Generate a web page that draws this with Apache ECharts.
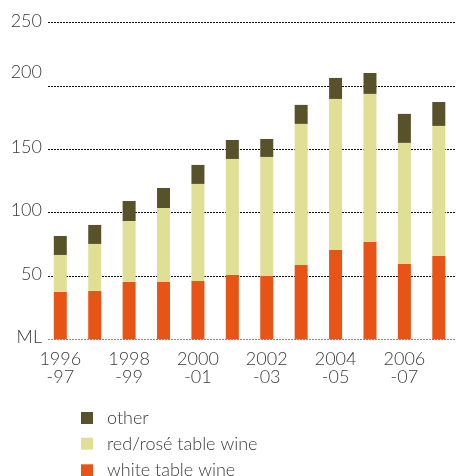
<!DOCTYPE html>
<html>
<head>
<meta charset="utf-8">
<script src="https://cdn.jsdelivr.net/npm/echarts@6/dist/echarts.min.js"></script>
<style>
  html, body { margin: 0; padding: 0; background: #fff; }
  #wine { width: 456px; height: 476px; }
</style>
</head>
<body>
<div id="wine"></div>
<script>
// financial years
let years = ['1996-97', '1997-98', '1998-99', '1999-00', '2000-01', '2001-02',
  '2002-03', '2003-04', '2004-05', '2005-06', '2006-07', '2007-08'];
// ML
let whiteWine = [37.4, 38.2, 45.3, 45.3, 46.1, 50.8, 50.0, 58.7, 70.5, 76.9, 59.5, 65.8];
let redWine = [29.2, 37.1, 48.1, 58.4, 76.6, 91.6, 94.0, 111.4, 119.3, 116.9, 95.6, 102.7];
let otherWine = [15.0, 15.0, 15.8, 15.8, 15.0, 15.0, 14.2, 15.0, 16.6, 16.5, 22.9, 18.9];
let yTicks = [0, 50, 100, 150, 200, 250];
let legendNames = ['other', 'red/rosé table wine', 'white table wine'];

let font = 'Lato';
let color = ['#e85416', '#dfe096', '#58522b']; // white, red/rose, other

let chart = echarts.init(document.getElementById('wine'));

// one legend per entry so the column doesn't wrap near the bottom edge
let legendTops = [409, 434.7, 461.3];
let legends = legendNames.map(function (name, i) {
  return {
    orient: 'vertical',
    left: 81,
    top: legendTops[i],
    padding: 0,
    icon: 'rect',
    itemWidth: 12,
    itemHeight: 12,
    data: [name],
    textStyle: {
      fontFamily: font,
      fontSize: 18,
      fontWeight: 300,
      color: '#3a3a3a',
      lineHeight: 14,
      padding: [0, 0, 0, 9]
    }
  };
});

chart.setOption({
  backgroundColor: '#fff',
  animation: false,
  textStyle: { fontFamily: font },
  legend: legends,
  grid: [
    // bars
    { left: 43.1, top: 22.7, width: 417.6, height: 316.6 },
    // gridlines + y labels
    { left: 48, top: 22.7, right: 0, height: 316.6 }
  ],
  xAxis: [
    {
      type: 'category',
      gridIndex: 0,
      data: years,
      axisLine: { show: false },
      axisTick: { show: false },
      axisLabel: {
        interval: 1,
        margin: 11,
        fontFamily: font,
        fontSize: 18,
        fontWeight: 300,
        lineHeight: 18,
        color: '#3a3a3a',
        formatter: function (v) {
          return v.replace('-', '\n-');
        }
      }
    },
    { type: 'value', gridIndex: 1, show: false, min: 0, max: 1 }
  ],
  yAxis: [
    {
      type: 'value', gridIndex: 0, min: 0, max: 250, interval: 50,
      axisLabel: { show: false }, axisLine: { show: false },
      axisTick: { show: false }, splitLine: { show: false }
    },
    {
      type: 'value', gridIndex: 1,
      min: yTicks[0], max: yTicks[yTicks.length - 1], interval: 50,
      axisLine: { show: false },
      axisTick: { show: false },
      axisLabel: {
        margin: 6,
        fontFamily: font,
        fontSize: 18,
        fontWeight: 300,
        color: '#3a3a3a',
        padding: [0, 0, 4, 0],
        formatter: function (v) {
          if (v === 0) return 'ML';
          if (v === 200) return '{hi|200}';
          return v;
        },
        rich: {
          hi: {
            fontFamily: font,
            fontSize: 18,
            fontWeight: 300,
            color: '#3a3a3a',
            padding: [0, 0, 24, 0]
          }
        }
      },
      splitLine: {
        show: true,
        lineStyle: {
          color: ['#8a8a8a', '#111', '#111', '#111', '#111', '#111'],
          width: 1,
          type: [2, 1]
        }
      }
    }
  ],
  series: [
    {
      name: 'white table wine', type: 'bar', stack: 'wine',
      xAxisIndex: 0, yAxisIndex: 0, barWidth: 13,
      itemStyle: { color: color[0] },
      data: whiteWine
    },
    {
      name: 'red/rosé table wine', type: 'bar', stack: 'wine',
      xAxisIndex: 0, yAxisIndex: 0, barWidth: 13,
      itemStyle: { color: color[1] },
      data: redWine
    },
    {
      name: 'other', type: 'bar', stack: 'wine',
      xAxisIndex: 0, yAxisIndex: 0, barWidth: 13,
      itemStyle: { color: color[2] },
      data: otherWine
    }
  ]
});
</script>
</body>
</html>
